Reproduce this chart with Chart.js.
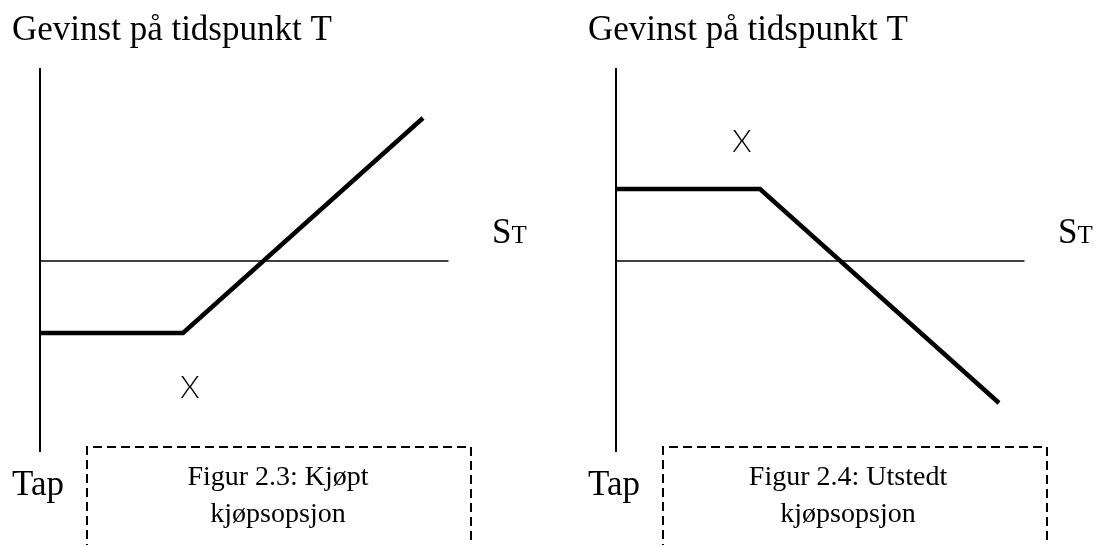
<!DOCTYPE html>
<html>
<head>
<meta charset="utf-8">
<script src="https://cdn.jsdelivr.net/npm/chart.js@4/dist/chart.umd.min.js"></script>
<style>
  html, body { margin: 0; padding: 0; background: #ffffff; }
  #wrap { position: relative; width: 1098px; height: 545px; overflow: hidden; background: #fff; }
  canvas { position: absolute; top: 0; }
</style>
</head>
<body>
<div id="wrap">
  <canvas id="c1" width="549" height="545" style="left:0px"></canvas>
  <canvas id="c2" width="549" height="545" style="left:549px"></canvas>
</div>
<script>
// ---- data (units: payoff diagram units) ----
const leftST = [0, 14.3, 38.3];
const leftGain = [-7.2, -7.2, 14.3];
const rightST = [0, 14.4, 38.3];
const rightGain = [7.2, 7.2, -14.2];
const axisHoriz = [0, 40.85];      // S_T axis extent
const axisVert = [19.3, -19.1];    // gain axis extent
const titleText = "Gevinst på tidspunkt T";
const lossText = "Tap";
const strikeText = "X";
const stMain = "S";
const stSub = "T";
const captionLeft = ["Figur 2.3: Kjøpt", "kjøpsopsjon"];
const captionRight = ["Figur 2.4: Utstedt", "kjøpsopsjon"];

const SERIF = "'Liberation Serif', 'Times New Roman', serif";

function pts(xs, ys) { return xs.map((x, i) => ({ x: x, y: ys[i] })); }

function makePanel(id, st, gain, xMin, opts) {
  const ctxEl = document.getElementById(id);
  const annot = {
    id: 'annot',
    afterDatasetsDraw(chart) {
      const ctx = chart.ctx;
      const xs = chart.scales.x, ys = chart.scales.y;
      const px = v => xs.getPixelForValue(v);
      const py = v => ys.getPixelForValue(v);
      ctx.save();
      ctx.fillStyle = '#000';
      ctx.textBaseline = 'alphabetic';
      // title
      ctx.font = '35px ' + SERIF;
      ctx.textAlign = 'left';
      ctx.fillText(titleText, px(-2.8), py(22.1));
      // Tap
      ctx.fillText(lossText, px(-2.8), py(-23.4));
      // S_T
      ctx.fillText(stMain, px(opts.stX), py(1.8));
      const sw = ctx.measureText(stMain).width;
      ctx.font = '25px ' + SERIF;
      ctx.fillText(stSub, px(opts.stX) + sw, py(1.8));
      // X label
      ctx.font = '300 31px Lato, "Open Sans", sans-serif';
      ctx.textAlign = 'center';
      ctx.textBaseline = 'middle';
      ctx.fillText(strikeText, px(opts.xLab[0]), py(opts.xLab[1]));
      // caption box (dashed)
      ctx.strokeStyle = '#000';
      ctx.lineWidth = 2;
      ctx.setLineDash([9, 5]);
      ctx.beginPath();
      const bl = px(4.7), br = px(43.1), bt = py(-18.6), bb = py(-32);
      ctx.moveTo(bl, bb); ctx.lineTo(bl, bt); ctx.lineTo(br, bt); ctx.lineTo(br, bb);
      ctx.stroke();
      ctx.setLineDash([]);
      // caption text
      ctx.font = '28px ' + SERIF;
      ctx.textBaseline = 'alphabetic';
      ctx.fillText(opts.caption[0], px(opts.capX), py(-22.4));
      ctx.fillText(opts.caption[1], px(opts.capX), py(-26.1));
      ctx.restore();
    }
  };
  return new Chart(ctxEl, {
    type: 'scatter',
    data: {
      datasets: [
        { data: pts(axisHoriz, [0, 0]), showLine: true, borderColor: '#000', borderWidth: 1.4, pointRadius: 0 },
        { data: pts([0, 0], axisVert), showLine: true, borderColor: '#000', borderWidth: 2, pointRadius: 0 },
        { data: pts(st, gain), showLine: true, borderColor: '#000', borderWidth: 4.5, pointRadius: 0, borderJoinStyle: 'miter', borderCapStyle: 'butt' }
      ]
    },
    options: {
      responsive: false,
      animation: false,
      devicePixelRatio: 1,
      layout: { padding: 0 },
      plugins: { legend: { display: false }, tooltip: { enabled: false } },
      scales: {
        x: { type: 'linear', display: false, min: xMin, max: xMin + 54.9 },
        y: { type: 'linear', display: false, min: -28.4, max: 26.1 }
      }
    },
    plugins: [annot]
  });
}

makePanel('c1', leftST, leftGain, -4.0, { stX: 45.2, xLab: [15.0, -12.7], caption: captionLeft, capX: 23.8 });
makePanel('c2', rightST, rightGain, -6.7, { stX: 44.2, xLab: [12.6, 11.9], caption: captionRight, capX: 23.2 });
</script>
</body>
</html>
